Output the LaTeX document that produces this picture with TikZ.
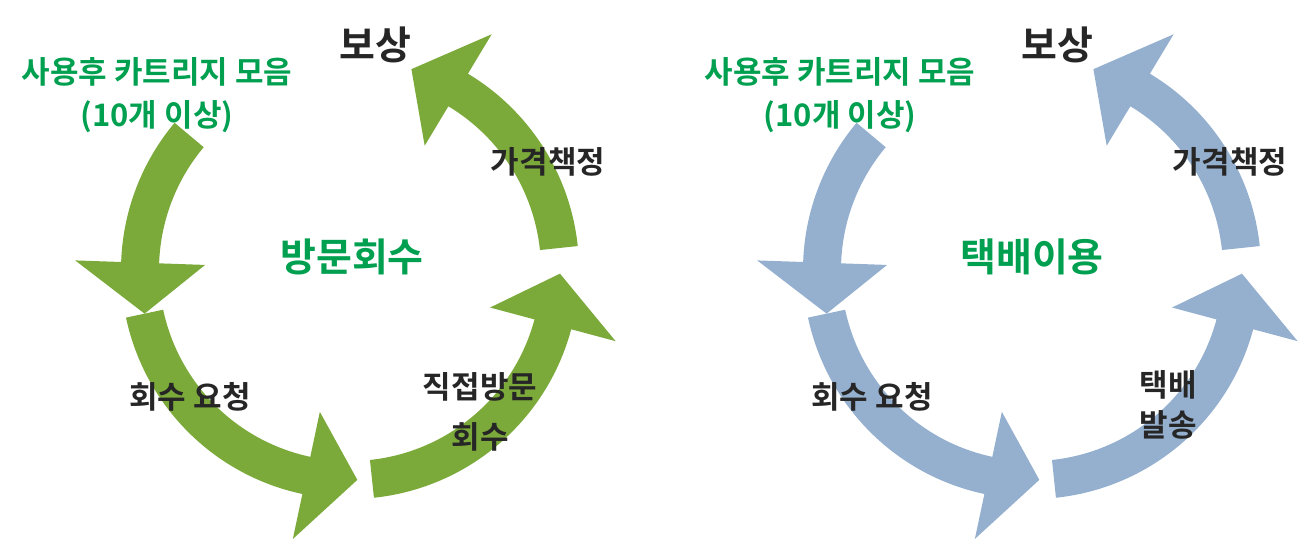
\documentclass[tikz,border=0pt]{standalone}
\usepackage{fontspec}
\newfontfamily\kr{Noto Sans CJK KR}[BoldFont={Noto Sans CJK KR Bold}]
\usetikzlibrary{calc}
\definecolor{ag}{HTML}{7BAA3A}
\definecolor{ab}{HTML}{95B0CF}
\definecolor{tg}{HTML}{00A050}
\newcommand{\cyarrow}[5]{% center, a, b, color, name
  \fill[#4] ($(#1)+(#2:229)$) arc[start angle=#2,end angle=#3,radius=229]
    -- ($(#1)+(#3:275)$) -- ($(#1)+(#3+14:210)$) -- ($(#1)+(#3:145)$)
    -- ($(#1)+(#3:191)$) arc[start angle=#3,end angle=#2,radius=191] -- cycle;}
\tikzset{lb/.style={font=\kr\bfseries\fontsize{31}{36}\selectfont,text=black!85,align=center,inner sep=0},
  gl/.style={lb,text=tg},
  big/.style={lb,font=\kr\bfseries\fontsize{39}{44}\selectfont}}
\begin{document}
\begin{tikzpicture}[x=1pt,y=1pt]
\useasboundingbox (0,0) rectangle (1301,544);
\coordinate (L) at (350,274);
\coordinate (R) at (1032,274);
\foreach \c/\col in {L/ag,R/ab}{
  \cyarrow{\c}{140}{178}{\col}{}
  \cyarrow{\c}{192}{258}{\col}{}
  \cyarrow{\c}{276}{345}{\col}{}
  \cyarrow{\c}{366}{419}{\col}{}
}
\node[big] (b1) at (375,499) {보상};
\node[gl] (g1) at (157,472) {사용후 카트리지 모음};
\node[gl] (g2) at (157,427) {(10개 이상)};
\node[lb] (p1) at (548,382) {가격책정};
\node[big,text=tg] (c1) at (352,287) {방문회수};
\node[lb] (r1) at (190,147) {회수 요청};
\node[lb] (d1) at (480,157) {직접방문};
\node[lb] (d2) at (480,107) {회수};
\node[big] (b2) at (1057,499) {보상};
\node[gl] (g3) at (840,472) {사용후 카트리지 모음};
\node[gl] (g4) at (840,427) {(10개 이상)};
\node[lb] (p2) at (1230,382) {가격책정};
\node[big,text=tg] (c2) at (1032,287) {택배이용};
\node[lb] (r2) at (872,147) {회수 요청};
\node[lb] (t1) at (1168,159) {택배};
\node[lb] (t2) at (1168,119) {발송};
\end{tikzpicture}
\end{document}
